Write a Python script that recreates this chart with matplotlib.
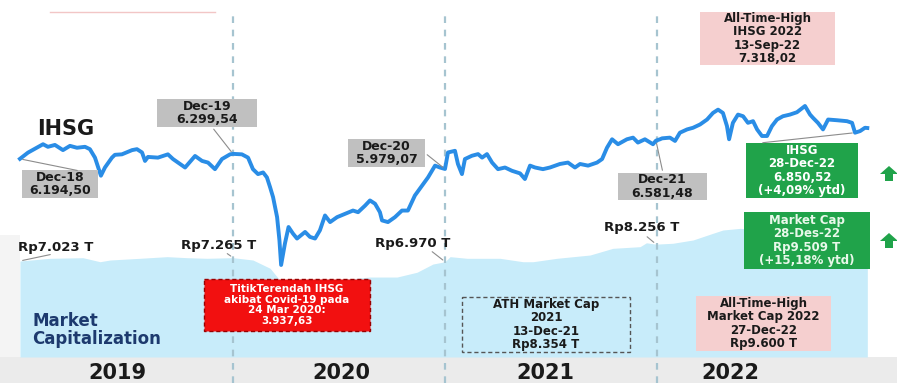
import matplotlib.pyplot as plt
from matplotlib.patches import Rectangle, Polygon

W, H = 897, 383

# IHSG closing index (decimal year, value)
ihsg_t = [2018.995, 2019.033, 2019.090, 2019.104, 2019.127, 2019.160, 2019.198, 2019.231,
          2019.264, 2019.302, 2019.325, 2019.349, 2019.377, 2019.396, 2019.429, 2019.443,
          2019.476, 2019.524, 2019.547, 2019.571, 2019.585, 2019.599, 2019.646, 2019.693,
          2019.717, 2019.741, 2019.774, 2019.821, 2019.854, 2019.882, 2019.915, 2019.948,
          2019.986, 2020.000,
          2020.042, 2020.071, 2020.094, 2020.118, 2020.142, 2020.160, 2020.175, 2020.189,
          2020.208, 2020.219, 2020.227, 2020.245, 2020.262, 2020.283, 2020.302, 2020.340,
          2020.363, 2020.387, 2020.410, 2020.434, 2020.458, 2020.491, 2020.528, 2020.566,
          2020.590, 2020.623, 2020.646, 2020.670, 2020.693, 2020.703, 2020.731, 2020.764,
          2020.797, 2020.825, 2020.858, 2020.892, 2020.920, 2020.953, 2020.976, 2021.000,
          2021.014, 2021.047, 2021.061, 2021.080, 2021.094, 2021.127, 2021.156, 2021.175,
          2021.198, 2021.222, 2021.250, 2021.283, 2021.316, 2021.354, 2021.377, 2021.401,
          2021.425, 2021.462, 2021.495, 2021.542, 2021.580, 2021.613, 2021.637, 2021.675,
          2021.717, 2021.741, 2021.764, 2021.788, 2021.816, 2021.858, 2021.887, 2021.910,
          2021.943, 2021.981, 2021.995,
          2022.014, 2022.024, 2022.061, 2022.085, 2022.108, 2022.142, 2022.170, 2022.203,
          2022.236, 2022.264, 2022.288, 2022.311, 2022.330, 2022.340, 2022.358, 2022.382,
          2022.406, 2022.429, 2022.453, 2022.472, 2022.495, 2022.519, 2022.542, 2022.566,
          2022.594, 2022.627, 2022.660, 2022.698, 2022.722, 2022.736, 2022.759, 2022.783,
          2022.807, 2022.849, 2022.896, 2022.920, 2022.934, 2022.958, 2022.981, 2022.992]
ihsg_v = [6194, 6327, 6470, 6505, 6450, 6490, 6380, 6470,
          6430, 6450, 6400, 6220, 5836, 6010, 6220, 6280,
          6290, 6380, 6400, 6330, 6150, 6235, 6220, 6290,
          6190, 6115, 6010, 6255, 6150, 6115, 5975, 6190,
          6290, 6300,
          6290, 6220, 5975, 5870, 5905, 5800, 5590, 5380,
          4955, 4465, 3938, 4395, 4745, 4605, 4500, 4640,
          4535, 4500, 4675, 4990, 4850, 4955, 5025, 5095,
          5060, 5200, 5310, 5240, 5060, 4885, 4850, 4955,
          5095, 5095, 5415, 5625, 5800, 6050, 6010, 5979,
          6330, 6365, 6085, 5870, 6190, 6260, 6295, 6220,
          6295, 6115, 5975, 6010, 5940, 5885, 5765, 6050,
          6010, 5975, 6010, 6085, 6115, 6010, 6085, 6050,
          6115, 6190, 6430, 6610, 6505, 6610, 6645, 6540,
          6610, 6505, 6581,
          6610, 6630, 6645, 6575, 6750, 6820, 6855, 6925,
          7030, 7170, 7240, 7170, 6890, 6610, 6960, 7135,
          7100, 6960, 6995, 6820, 6680, 6680, 6890, 7030,
          7100, 7135, 7185, 7318, 7135, 7065, 6960, 6820,
          7030, 7015, 6995, 6960, 6750, 6785, 6855, 6850]

# market capitalization (Rp trillion)
mcap_t = [2018.995, 2019.137, 2019.292, 2019.373, 2019.420, 2019.561, 2019.689, 2019.783,
          2019.877, 2020.000, 2020.094, 2020.175, 2020.222, 2020.262, 2020.363, 2020.505,
          2020.646, 2020.774, 2020.868, 2020.943, 2021.000, 2021.024, 2021.104, 2021.259,
          2021.368, 2021.415, 2021.528, 2021.684, 2021.792, 2021.920, 2021.950, 2021.995,
          2022.075, 2022.170, 2022.264, 2022.311, 2022.392, 2022.500, 2022.600, 2022.700,
          2022.800, 2022.900, 2022.985, 2022.992]
mcap_v = [7023, 7220, 7265, 6970, 7095, 7220, 7340, 7265,
          7220, 7265, 7095, 6490, 5600, 5300, 5450, 5650,
          5850, 5850, 6200, 6800, 6970, 7340, 7220, 7220,
          6970, 6970, 7220, 7460, 7950, 8070, 8354, 8256,
          8320, 8560, 9050, 9290, 9410, 9300, 9450, 9500,
          9400, 9450, 9600, 9509]

years = ['2019', '2020', '2021', '2022']
year_x = [117, 341, 545, 730]
year_bounds = [2020, 2021, 2022]

X0, X1 = 2018.901, 2023.132
FONT = 'DejaVu Sans'

fig = plt.figure(figsize=(W / 100, H / 100), dpi=100)
fig.patch.set_facecolor('white')

# background layer in pixel coords
bg = fig.add_axes([0, 0, 1, 1])
bg.set_xlim(0, W)
bg.set_ylim(H, 0)
bg.axis('off')
bg.add_patch(Rectangle((0, 357), W, 26, facecolor='#ebebeb', edgecolor='none'))
bg.add_patch(Rectangle((0, 235), 20, 122, facecolor='#f4f4f4', edgecolor='none'))
bg.plot([50, 215], [12, 12], color='#f2c6c6', lw=1)

# market cap area
ax_mc = fig.add_axes([0, 0, 1, 1])
ax_mc.set_xlim(X0, X1)
ax_mc.set_ylim(-1902, 26116)
ax_mc.axis('off')
ax_mc.fill_between(mcap_t, 0, mcap_v, color='#c8ecfa', lw=0)
for b in year_bounds:
    ax_mc.axvline(b, ymin=0, ymax=1 - 12 / H, color='#a6c4d0', lw=1.6, ls=(0, (3, 3)))

# IHSG line
ax = fig.add_axes([0, 0, 1, 1])
ax.set_xlim(X0, X1)
ax.set_ylim(1429, 9571)
ax.axis('off')
ax.plot(ihsg_t, ihsg_v, color='#2a8de6', lw=2.8, solid_joinstyle='round')

# overlay for boxes and labels
ov = fig.add_axes([0, 0, 1, 1])
ov.set_xlim(0, W)
ov.set_ylim(H, 0)
ov.axis('off')

conn = dict(arrowstyle='-', color='#8c8c8c', lw=0.8)


def link(axis, xy, pix):
    ov.annotate('', xy=xy, xycoords=axis.transData, xytext=pix, textcoords=ov.transData,
                arrowprops=conn)


link(ax, (ihsg_t[0], ihsg_v[0]), (80, 171))
link(ax, (2020.0, 6300), (212, 127))
link(ax, (2021.0, 5979), (425, 153))
link(ax, (2021.995, 6581), (663, 173))
link(ax, (ihsg_t[-4], ihsg_v[-4]), (760, 143))
link(ax_mc, (mcap_t[0], mcap_v[0]), (53, 254))
link(ax_mc, (2020.0, 7265), (225, 252))
link(ax_mc, (2021.0, 6970), (430, 250))
link(ax_mc, (2021.995, 8256), (645, 235))


def box(x0, y0, x1, y1, text, fc, tc, fs, ec='none', ls='-', lsp=1.05):
    ov.add_patch(Rectangle((x0, y0), x1 - x0, y1 - y0, facecolor=fc, edgecolor=ec,
                           lw=1.0, ls=ls))
    ov.text((x0 + x1) / 2, (y0 + y1) / 2, text, ha='center', va='center',
            multialignment='center', color=tc, fontsize=fs, fontweight='bold',
            family=FONT, linespacing=lsp)


gray = '#c0c0c0'
pink = '#f5cfcf'
green = '#20a34a'
dark = '#1a1a1a'

box(22, 170, 98, 198, 'Dec-18\n6.194,50', gray, dark, 9)
box(157, 99, 257, 127, 'Dec-19\n6.299,54', gray, dark, 9)
box(348, 139, 425, 167, 'Dec-20\n5.979,07', gray, dark, 9)
box(618, 173, 707, 200, 'Dec-21\n6.581,48', gray, dark, 9)
box(700, 12, 835, 65, 'All-Time-High\nIHSG 2022\n13-Sep-22\n7.318,02', pink, dark, 8.5)
box(746, 143, 858, 198, 'IHSG\n28-Dec-22\n6.850,52\n(+4,09% ytd)', green, 'white', 8.5)
box(744, 212, 870, 269, 'Market Cap\n28-Des-22\nRp9.509 T\n(+15,18% ytd)', green, '#e8f8ea', 8.5)
box(696, 296, 831, 351, 'All-Time-High\nMarket Cap 2022\n27-Dec-22\nRp9.600 T', pink, dark, 8.5)
box(462, 297, 630, 352, 'ATH Market Cap\n2021\n13-Dec-21\nRp8.354 T', 'none', dark, 8.5,
    ec='#555555', ls=(0, (3, 2)))
box(204, 279, 370, 331, 'TitikTerendah IHSG\nakibat Covid-19 pada\n24 Mar 2020:\n3.937,63',
    '#f21010', 'white', 7.5, ec='#9a0000', ls=(0, (3, 2)))

for lbl, (x, y) in [('Rp7.023 T', (56, 247)), ('Rp7.265 T', (219, 245)),
                    ('Rp6.970 T', (413, 243)), ('Rp8.256 T', (642, 228))]:
    ov.text(x, y, lbl, ha='center', va='center', fontsize=9.5, fontweight='bold',
            color=dark, family=FONT)

ov.text(37, 129, 'IHSG', ha='left', va='center', fontsize=15, fontweight='bold',
        color=dark, family=FONT)
ov.text(32, 330, 'Market\nCapitalization', ha='left', va='center', fontsize=12,
        fontweight='bold', color='#1d3a6e', family=FONT, linespacing=1.0)

for lbl, x in zip(years, year_x):
    ov.text(x, 373, lbl, ha='center', va='center', fontsize=15, fontweight='bold',
            color=dark, family=FONT)

# green up arrows
for top in (166, 233):
    ov.add_patch(Polygon([(880, top + 8), (889, top), (898, top + 8), (893, top + 8),
                          (893, top + 15), (885, top + 15), (885, top + 8)],
                         closed=True, facecolor=green, edgecolor='none'))

fig.savefig('out.png', dpi=100)
